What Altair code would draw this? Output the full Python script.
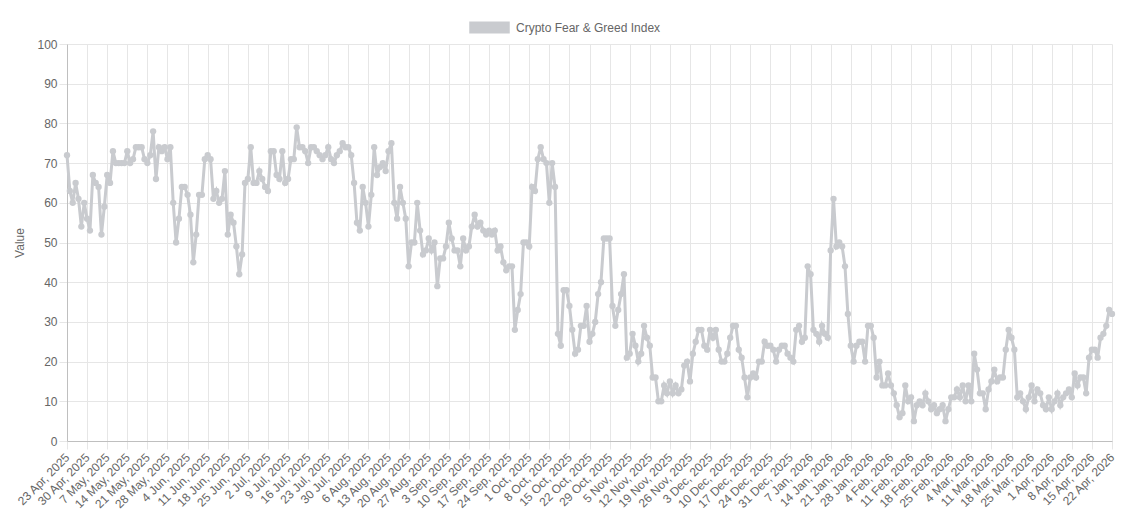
import altair as alt
import pandas as pd

START_DATE = "2025-04-23"
SERIES_NAME = "Crypto Fear & Greed Index"

# Daily index values (23 Apr 2025 -> 22 Apr 2026)
vals_apr_may = [72, 63, 60, 65, 61, 54, 60, 56, 53, 67, 65, 64, 52, 59, 67, 65, 73, 70, 70, 70,
                70, 73, 70, 71, 74, 74, 74, 71, 70, 72, 78, 66, 74, 73, 74, 71, 74]
vals_may_jul = [60, 50, 56, 64, 64, 62, 57, 45, 52, 62, 62, 71, 72, 71, 61, 63, 60, 61, 68, 52,
                57, 55, 49, 42, 47, 65, 66, 74, 65, 65, 68, 66, 64, 63, 73, 73]
vals_jul_aug = [67, 66, 73, 65, 66, 71, 71, 79, 74, 74, 73, 70, 74, 74, 73, 72, 71, 72, 74, 71,
                70, 72, 73, 75, 74, 74, 72, 65, 55, 53, 64, 60, 54, 62, 74, 67]
vals_aug_sep = [69, 70, 68, 73, 75, 60, 56, 64, 60, 56, 44, 50, 50, 60, 53, 47, 48, 51, 48, 50,
                39, 46, 46, 49, 55, 51, 48, 48, 44, 51, 48, 49, 54, 57, 54, 55, 53]
vals_sep_oct = [52, 53, 52, 53, 48, 49, 45, 43, 44, 44,
                28, 33, 37, 50, 50, 49, 64, 63, 71, 74, 71, 70, 60, 70, 64,
                27, 24, 38, 38, 34, 28, 22, 23, 29, 29, 34, 25]
vals_oct_nov = [27, 30, 37, 40, 51, 51, 51, 34, 29, 33, 37, 42, 21, 22, 27, 24, 20, 22, 29, 26,
                24, 16, 16, 10, 10, 14, 12, 15, 12, 14, 12, 13, 19, 20, 15, 22, 25]
vals_nov_jan = [28, 28, 24, 23, 28, 26, 28, 23, 20, 20, 22, 26, 29, 29, 23, 21, 16, 11, 16, 17,
                16, 20, 20, 25, 24, 24, 23, 20, 23, 24, 24, 22, 21, 20, 28, 29]
vals_jan_feb = [25, 26, 44, 42, 28, 27, 25, 29, 27, 26, 48, 61, 49, 50, 49, 44, 32, 24, 20, 24,
                25, 25, 20, 29, 29, 26, 16, 20, 14, 14, 17, 14, 12, 9, 6, 7, 14]
vals_feb_mar = [10, 11, 5, 9, 10, 9, 12, 10, 8, 9, 7, 8, 9, 5, 8, 11, 11, 13, 11, 14,
                10, 14, 10, 22, 18, 12, 12, 8, 13, 15, 18, 15, 16, 16, 23, 28, 26, 23]
vals_mar_apr = [11, 12, 10, 8, 11, 14, 10, 13, 12, 9, 8, 11, 8, 10, 12, 9, 11, 12, 13, 11,
                17, 14, 16, 16, 12, 21, 23, 23, 21, 26, 27, 29, 33, 32]

values = (vals_apr_may + vals_may_jul + vals_jul_aug + vals_aug_sep + vals_sep_oct
          + vals_oct_nov + vals_nov_jan + vals_jan_feb + vals_feb_mar + vals_mar_apr)

dates = pd.date_range(START_DATE, periods=len(values), freq="D")
labels = [f"{d.day} {d.strftime('%b')}, {d.year}" for d in dates]
tick_labels = labels[::7]
y_ticks = list(range(0, 101, 10))

df = pd.DataFrame({"date": labels, "value": values, "series": SERIES_NAME})

FONT = "Liberation Sans"
TEXT = "#666666"
GREY = "#c9cbcf"

x_enc = alt.X(
    "date:O",
    sort=None,
    scale=alt.Scale(type="point", padding=0),
    axis=alt.Axis(
        values=tick_labels,
        labelAngle=-45,
        labelAlign="right",
        labelBaseline="middle",
        labelPadding=6,
        labelOverlap=False,
        labelBound=False,
        labelFontSize=12,
        labelColor=TEXT,
        labelFont=FONT,
        tickSize=8,
        tickColor="#e6e6e6",
        grid=True,
        gridColor="#e6e6e6",
        domainColor="#bfbfbf",
        title=None,
    ),
)
y_enc = alt.Y(
    "value:Q",
    scale=alt.Scale(domain=[0, 100], nice=False),
    axis=alt.Axis(
        values=y_ticks,
        title="Value",
        titleFont=FONT,
        titleFontSize=12,
        titleFontWeight="normal",
        titleColor=TEXT,
        titlePadding=10,
        labelFontSize=12,
        labelColor=TEXT,
        labelFont=FONT,
        labelPadding=2,
        tickSize=8,
        tickColor="#e6e6e6",
        grid=True,
        gridColor="#e6e6e6",
        domainColor="#bfbfbf",
    ),
)

base = alt.Chart(df)
line = base.mark_line(color=GREY, strokeWidth=3).encode(x=x_enc, y=y_enc)
points = base.mark_circle(size=40, opacity=1).encode(
    x=x_enc,
    y=y_enc,
    color=alt.Color(
        "series:N",
        scale=alt.Scale(range=[GREY]),
        legend=alt.Legend(
            title=None,
            orient="none",
            legendX=402,
            legendY=-37,
            direction="horizontal",
            symbolType="M-1,-0.3L1,-0.3L1,0.3L-1,0.3Z",
            symbolSize=1640,
            symbolStrokeWidth=0,
            symbolOpacity=1,
            labelFont=FONT,
            labelFontSize=12,
            labelColor=TEXT,
            labelOffset=6,
            padding=0,
        ),
    ),
)

chart = (
    alt.layer(line, points)
    .properties(
        width=1045,
        height=397,
        autosize=alt.AutoSizeParams(type="none"),
        padding={"left": 59, "top": 36, "right": 10, "bottom": 70},
    )
    .configure_view(strokeWidth=0)
)

chart.save("out.html", embed_options={"renderer": "svg", "actions": False})
